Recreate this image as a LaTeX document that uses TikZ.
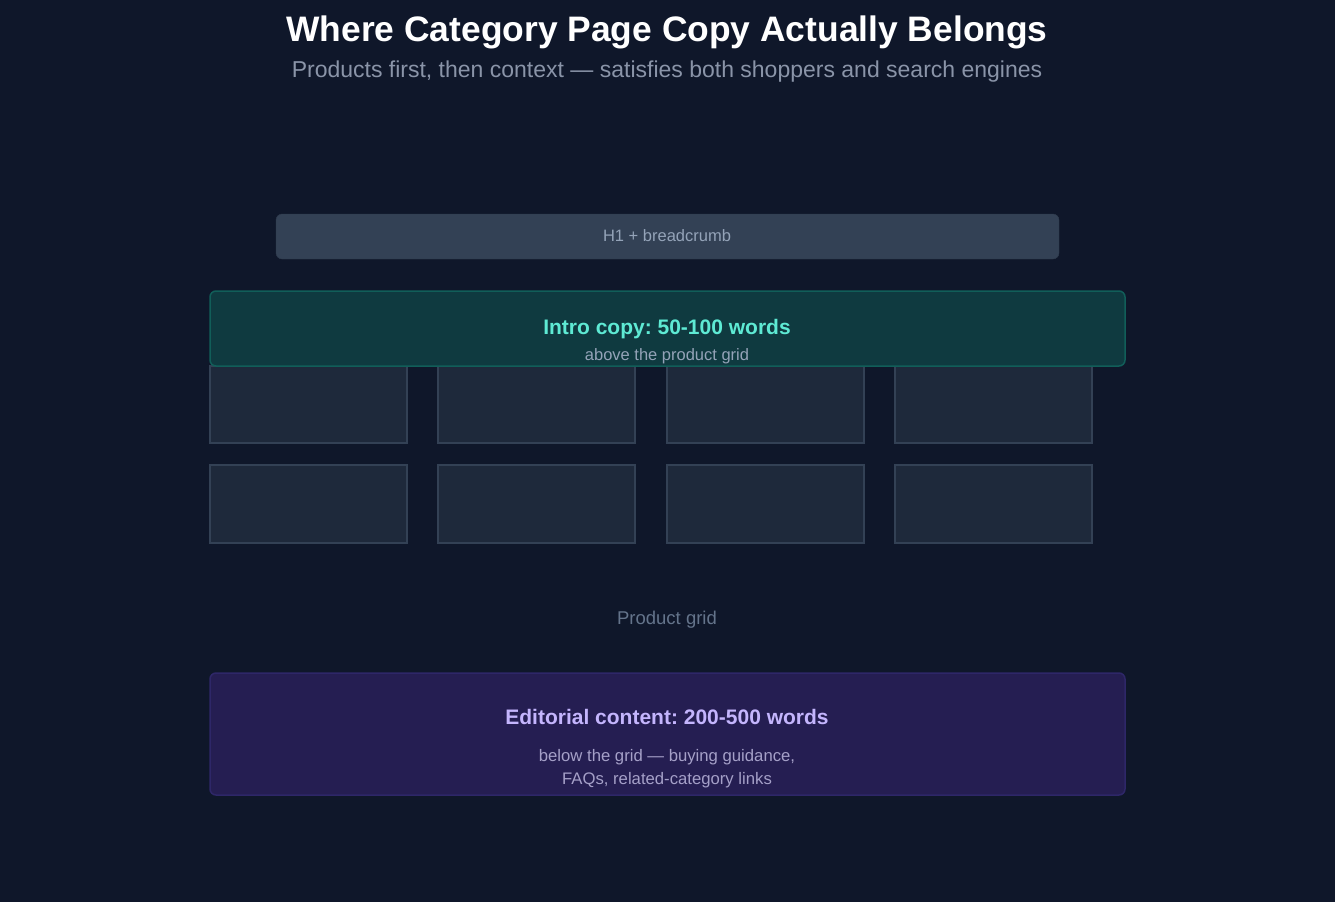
\documentclass[tikz,border=0pt]{standalone}
\usepackage{fontspec}
\setmainfont{Liberation Sans}
\frenchspacing
\definecolor{bg}{HTML}{0F172A}
\definecolor{hbox}{HTML}{334155}
\definecolor{htext}{HTML}{94A3B8}
\definecolor{introfill}{HTML}{0F3A40}
\definecolor{introdraw}{HTML}{115E59}
\definecolor{introtitle}{HTML}{5EEAD4}
\definecolor{introsub}{HTML}{94A3B8}
\definecolor{cardfill}{HTML}{1E293B}
\definecolor{carddraw}{HTML}{334155}
\definecolor{edfill}{HTML}{251E52}
\definecolor{eddraw}{HTML}{2E2768}
\definecolor{edtitle}{HTML}{C4B5FD}
\definecolor{edsub}{HTML}{A5A0C8}
\definecolor{gridlabel}{HTML}{64748B}
\definecolor{subtitle}{HTML}{8A94A8}
\tikzset{
  px/.style={x=1pt,y=-1pt},
  card/.style={draw=carddraw,fill=cardfill,line width=1.5pt},
  lbl/.style={anchor=base,inner sep=0pt},
}
\begin{document}
\begin{tikzpicture}[px]
\useasboundingbox (0,0) rectangle (1335,902);
\fill[bg] (0,0) rectangle (1335,902);
% title
\node[lbl,text=white,font=\fontsize{35.4}{40}\selectfont\bfseries] (title) at (667,41) {Where Category Page Copy Actually Belongs};
\node[lbl,text=subtitle,font=\fontsize{23}{27}\selectfont] (subtitle) at (667,77) {Products first, then context — satisfies both shoppers and search engines};
% H1 box
\draw[fill=hbox,draw=hbox!90!black,rounded corners=6pt] (276,214) rectangle (1059,259);
\node[lbl,text=htext,font=\fontsize{16.5}{20}\selectfont] (h1) at (667,241) {H1 + breadcrumb};
% cards
\foreach \cx/\nm in {210/a,438/b,667/c,895/d}{
  \draw[card] (\cx,366) rectangle ++(197,77);
  \draw[card] (\cx,465) rectangle ++(197,78);
}
% intro box
\draw[fill=introfill,draw=introdraw,line width=1.5pt,rounded corners=6pt] (210,291) rectangle (1125,366);
\node[lbl,text=introtitle,font=\fontsize{21}{25}\selectfont\bfseries] (introt) at (667,334) {Intro copy: 50-100 words};
\node[lbl,text=introsub,font=\fontsize{16.5}{20}\selectfont] (intros) at (667,360) {above the product grid};
% grid label
\node[lbl,text=gridlabel,font=\fontsize{18.5}{22}\selectfont] (gridl) at (667,624) {Product grid};
% editorial
\draw[fill=edfill,draw=eddraw,line width=1.5pt,rounded corners=6pt] (210,673) rectangle (1125,795);
\node[lbl,text=edtitle,font=\fontsize{21}{25}\selectfont\bfseries] (edt) at (667,724) {Editorial content: 200-500 words};
\node[lbl,text=edsub,font=\fontsize{16.7}{20}\selectfont] (eds1) at (667,761) {below the grid — buying guidance,};
\node[lbl,text=edsub,font=\fontsize{16.7}{20}\selectfont] (eds2) at (667,784) {FAQs, related-category links};
\end{tikzpicture}
\end{document}
